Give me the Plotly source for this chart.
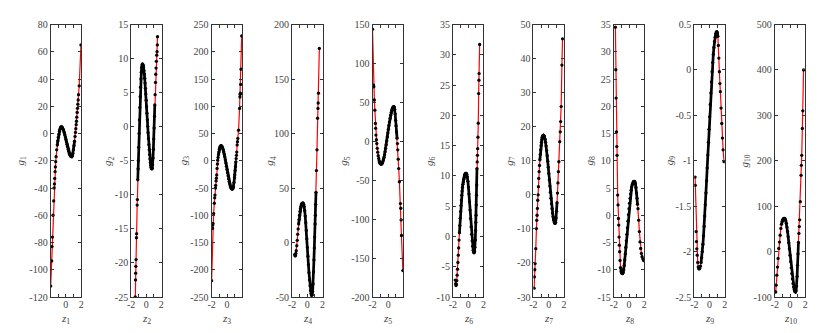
import plotly.graph_objects as go

# ---------------- data ----------------
z1 = [-1.96,-1.83,-1.79,-1.74,-1.66,-1.57,-1.52,-1.48,-1.44,-1.39,-1.35,-1.31,-1.26,-1.18,-1.11,-1.04,-0.97,-0.90,-0.83,-0.76,
      -0.69,-0.62,-0.55,-0.48,-0.41,-0.34,-0.27,-0.20,-0.13,-0.06,0.01,0.08,0.15,0.22,0.29,0.36,0.43,0.50,0.57,0.64,
      0.71,0.78,0.85,0.92,0.99,1.06,1.13,1.20,1.26,1.30,1.35,1.39,1.43,1.48,1.52,1.57,1.61,1.65,1.74,1.97]
g1 = [-112,-93.5,-83,-76,-60,-49.5,-40,-37,-33,-28,-24.5,-20.7,-17,-12,-8.5,-5.5,-2.8,-0.5,1.5,3.1,
      4.3,4.9,4.93,4.57,3.94,3.04,1.91,0.57,-0.95,-2.6,-4.34,-6.1,-7.9,-9.6,-11.3,-12.8,-14.1,-15.2,-16.0,-16.6,
      -17.0,-17.0,-16.3,-14.6,-12.0,-9.0,-5.6,-2.2,0.8,3.5,6.5,9,12,15.5,18.5,21.5,24.6,28.5,35,65]

z2 = [-1.45,-1.42,-1.40,-1.38,-1.35,-1.30,-1.27,-1.20,-1.17,-1.12,-1.08,-1.05,-1.00,-0.95,-0.90,-0.85,-0.80,-0.75,-0.70,-0.65,
      -0.60,-0.55,-0.50,-0.45,-0.40,-0.35,-0.30,-0.25,-0.20,-0.15,-0.10,-0.05,0.00,0.05,0.10,0.15,0.20,0.25,0.30,0.35,
      0.40,0.45,0.50,0.55,0.60,0.65,0.70,0.75,0.80,0.85,0.90,0.95,1.00,1.05,1.10,1.14,1.18,1.23,1.27,1.31,
      1.35,1.40,1.44,1.48,1.50]
g2 = [-25,-22.5,-21.5,-20.5,-19.5,-16.3,-15.7,-11.5,-10.7,-7.8,-6.2,-5.0,-3.0,-1.0,1.0,2.8,4.4,5.8,7.0,8.0,
      8.7,9.1,9.2,9.14,8.96,8.66,8.25,7.73,7.11,6.4,5.63,4.78,3.88,2.94,1.98,1.02,0.06,-0.88,-1.78,-2.63,
      -3.4,-4.1,-4.73,-5.25,-5.66,-5.96,-6.14,-6.2,-6.1,-5.6,-4.6,-3.3,-1.8,-0.2,1.5,3.2,4.7,6.5,7.7,8.6,
      9.6,10.5,11.0,12.0,13.2]

z3 = [-2.00,-1.87,-1.85,-1.82,-1.74,-1.65,-1.60,-1.56,-1.50,-1.47,-1.42,-1.38,-1.34,-1.29,-1.25,-1.21,-1.16,-1.11,-1.06,-1.01,
      -0.96,-0.91,-0.86,-0.78,-0.71,-0.64,-0.57,-0.50,-0.43,-0.36,-0.29,-0.22,-0.15,-0.08,-0.01,0.06,0.13,0.20,0.27,0.34,
      0.41,0.48,0.55,0.62,0.69,0.76,0.83,0.90,0.96,1.00,1.05,1.09,1.14,1.18,1.22,1.26,1.31,1.35,1.40,1.49,
      1.62,1.67,1.70,1.73,1.77,1.82,1.90]
g3 = [-220,-124,-118,-115,-97,-78,-68,-63,-50,-45,-37,-32,-26,-14,-6,1,6,11,16,20,
      23,25.5,27,27.6,27.1,25.8,23.5,20.5,16.7,12.2,7.2,1.7,-4.1,-10.1,-16.1,-22.0,-27.7,-33.1,-38,-42.3,
      -45.9,-48.7,-50.7,-51.8,-52,-51,-47.5,-40,-31,-26,-18,-11,-2,4,10,16,29,35,41,56,
      96,117,122,124,140,168,229]

z4 = [-1.65,-1.60,-1.55,-1.50,-1.45,-1.38,-1.32,-1.26,-1.20,-1.14,-1.08,-1.02,-0.96,-0.90,-0.84,-0.78,-0.72,-0.66,-0.60,-0.55,
      -0.48,-0.41,-0.34,-0.27,-0.20,-0.13,-0.06,0.01,0.08,0.15,0.22,0.29,0.36,0.43,0.50,0.57,0.64,0.70,0.76,0.82,
      0.87,0.92,0.97,1.02,1.06,1.10,1.14,1.20,1.27,1.35,1.40,1.43,1.47,1.58]
g4 = [-11,-12.3,-12,-10,-7.5,-3,2,7.5,12.5,17,21,25,28.5,31,33,34.5,35.5,36,36,36,
      35.2,33.0,29.2,24.2,18.1,11.1,3.4,-4.5,-12.6,-20.4,-27.7,-34.3,-39.7,-44.1,-47,-48.4,-48,-45,-38,-27,
      -16,-5,5,17,25,35,46,66,85,114,123,128,137,178]

z5 = [-2.00,-1.86,-1.83,-1.76,-1.70,-1.63,-1.60,-1.56,-1.50,-1.45,-1.39,-1.33,-1.27,-1.21,-1.15,-1.09,-1.03,-0.97,-0.91,-0.85,
      -0.81,-0.74,-0.67,-0.60,-0.53,-0.46,-0.39,-0.32,-0.25,-0.18,-0.11,-0.04,0.03,0.10,0.17,0.24,0.31,0.38,0.45,0.52,
      0.59,0.66,0.72,0.78,0.84,0.90,0.96,1.01,1.07,1.14,1.19,1.23,1.29,1.35,1.44,1.57,1.62,1.66,1.70,1.88]
g5 = [144,72,70,53,40,23,16.6,8,2,-3,-9,-14,-18.5,-22,-25,-27,-28.4,-29,-29.2,-29.1,
      -28.9,-27.8,-26.1,-23.8,-20.8,-17.4,-13.4,-9.1,-4.4,0.5,5.5,10.5,15.5,20.4,25,29.3,33.2,36.6,39.4,41.7,
      43.3,44.2,44.5,44,41,35,27,20,12,4,-3,-11,-23,-35,-52,-80,-86,-101,-121,-166]

z6 = [-1.70,-1.65,-1.60,-1.55,-1.50,-1.45,-1.40,-1.35,-1.30,-1.25,-1.20,-1.15,-1.10,-1.05,-1.00,-0.95,-0.90,-0.85,-0.80,-0.75,
      -0.70,-0.65,-0.60,-0.55,-0.50,-0.45,-0.40,-0.35,-0.30,-0.25,-0.18,-0.11,-0.04,0.03,0.10,0.17,0.24,0.31,0.38,0.45,
      0.52,0.59,0.66,0.73,0.78,0.83,0.88,0.93,0.97,1.00,1.03,1.06,1.09,1.12,1.15,1.18,1.21,1.24,1.28,1.32,
      1.37,1.41,1.43,1.50]
g6 = [-7.2,-7.8,-8.1,-7.9,-7.3,-6.4,-5.4,-4.3,-3.1,-1.9,-0.6,0.6,1.8,3.0,4.1,5.1,6.0,6.8,7.5,8.1,
      8.6,9.0,9.4,9.7,10.0,10.2,10.3,10.4,10.4,10.4,10.25,9.81,9.1,8.15,7.0,5.72,4.35,2.95,1.6,0.35,
      -0.74,-1.62,-2.27,-2.63,-2.7,-2.5,-1.8,-0.6,1.0,2.3,3.5,5.2,6.8,8.5,11.2,12.3,13.4,14.5,16.4,18.7,
      23.6,25.8,26.9,31.7]

z7 = [-1.91,-1.87,-1.82,-1.78,-1.69,-1.60,-1.56,-1.52,-1.47,-1.43,-1.38,-1.34,-1.30,-1.25,-1.20,-1.15,-1.10,-1.05,-1.00,-0.95,
      -0.90,-0.85,-0.80,-0.75,-0.68,-0.61,-0.54,-0.47,-0.40,-0.33,-0.26,-0.19,-0.12,-0.05,0.02,0.09,0.16,0.23,0.30,0.37,
      0.44,0.51,0.58,0.65,0.72,0.79,0.85,0.92,0.98,1.04,1.10,1.16,1.22,1.28,1.34,1.45,1.52,1.58,1.64,1.74,1.82]
g7 = [-27.4,-24.1,-22,-20.2,-15.8,-9.9,-7.5,-6,-4,-1.6,0,2.4,4.8,6.8,8.6,10.3,11.8,13.2,14.4,15.4,
      16.2,16.8,17.2,17.4,17.5,17.37,16.97,16.32,15.41,14.3,12.98,11.48,9.85,8.09,6.27,4.42,2.57,0.75,-1.0,-2.6,
      -4.08,-5.37,-6.47,-7.34,-7.95,-8.3,-8.4,-8.1,-6.8,-4.8,-2.3,0.5,3.5,6.8,9.7,15.6,18.5,21.5,25.9,38.1,45.8]

z8 = [-1.80,-1.74,-1.70,-1.65,-1.61,-1.58,-1.50,-1.45,-1.40,-1.36,-1.32,-1.28,-1.24,-1.19,-1.12,-1.05,-0.98,-0.90,-0.85,-0.78,
      -0.71,-0.64,-0.57,-0.50,-0.43,-0.36,-0.29,-0.22,-0.15,-0.08,-0.01,0.06,0.13,0.20,0.27,0.34,0.41,0.48,0.55,0.62,
      0.69,0.76,0.83,0.90,0.97,1.04,1.10,1.17,1.26,1.35,1.43,1.52,1.61,1.70,1.80,1.90]
g8 = [34.5,26.7,21.5,15.3,12.6,11,3.7,1.9,-0.6,-1.8,-4,-5.5,-6.7,-8.3,-9.6,-10.3,-10.6,-10.7,-10.7,-10.5,
      -10.0,-9.2,-8.2,-7.1,-5.9,-4.7,-3.5,-2.3,-1.1,0.1,1.2,2.2,3.1,3.9,4.6,5.2,5.6,5.9,6.1,6.2,
      6.2,6.1,5.8,5.1,4.1,3.1,2.0,1.2,-0.9,-3,-4.9,-6.1,-7.0,-7.6,-8.0,-8.3]

z9 = [-1.90,-1.87,-1.76,-1.72,-1.67,-1.62,-1.55,-1.48,-1.41,-1.34,-1.27,-1.19,-1.11,-1.03,-0.95,-0.87,-0.79,-0.71,-0.63,-0.55,
      -0.47,-0.39,-0.31,-0.23,-0.15,-0.07,0.01,0.09,0.17,0.25,0.33,0.41,0.49,0.57,0.65,0.73,0.81,0.89,0.95,1.02,
      1.09,1.16,1.22,1.29,1.36,1.42,1.51,1.60,1.69,1.78,1.90]
g9 = [-1.18,-1.27,-1.78,-1.89,-1.97,-2.04,-2.12,-2.17,-2.19,-2.19,-2.182,-2.159,-2.12,-2.067,-2.0,-1.919,-1.826,-1.723,-1.609,-1.485,
      -1.355,-1.22,-1.079,-0.938,-0.796,-0.654,-0.516,-0.381,-0.253,-0.132,-0.02,0.081,0.171,0.248,0.313,0.361,0.397,0.417,0.42,0.41,
      0.37,0.27,0.13,-0.02,-0.15,-0.24,-0.42,-0.59,-0.75,-0.88,-1.01]

z10 = [-1.88,-1.82,-1.73,-1.64,-1.56,-1.47,-1.38,-1.29,-1.20,-1.12,-1.04,-0.96,-0.88,-0.80,-0.72,-0.64,-0.56,-0.48,-0.40,-0.32,
       -0.24,-0.16,-0.08,0.00,0.08,0.16,0.24,0.32,0.40,0.48,0.56,0.64,0.72,0.80,0.87,0.93,0.99,1.05,1.11,1.17,
       1.22,1.27,1.35,1.45,1.49,1.54,1.62,1.68,1.78]
g10 = [-89,-74,-52,-34,-15,7,21,36,51,60,66,70,72,73,73,71.8,68.1,62.2,54,44.1,
       32.5,19.7,6.1,-8,-22.1,-35.7,-48.5,-60.1,-70,-78.1,-84.1,-87.8,-89,-86,-76,-55,-30,-5,20,40,
       55,70,110,168,190,212,271,310,400]

# tick values / labels
Z_TICKS = [-2, 0, 2]
Z_TICK_LABELS = ["-2", "0", "2"]
Z_MINOR_TICKS = [-1, 1]
G_TICKS = [
    [-120, -100, -80, -60, -40, -20, 0, 20, 40, 60, 80],
    [-25, -20, -15, -10, -5, 0, 5, 10, 15],
    [-250, -200, -150, -100, -50, 0, 50, 100, 150, 200, 250],
    [-50, 0, 50, 100, 150, 200],
    [-200, -150, -100, -50, 0, 50, 100, 150],
    [-10, -5, 0, 5, 10, 15, 20, 25, 30, 35],
    [-30, -20, -10, 0, 10, 20, 30, 40, 50],
    [-15, -10, -5, 0, 5, 10, 15, 20, 25, 30, 35],
    [-2.5, -2, -1.5, -1, -0.5, 0, 0.5],
    [-100, 0, 100, 200, 300, 400, 500],
]

# ---------------- layout / style ----------------
Z_DATA = [z1, z2, z3, z4, z5, z6, z7, z8, z9, z10]
G_DATA = [g1, g2, g3, g4, g5, g6, g7, g8, g9, g10]
X_RANGES = [[-1.96, 2.0], [-2.0, 2.05], [-2.0, 1.95], [-2.0, 2.0], [-2.0, 1.9],
            [-2.0, 2.0], [-2.0, 2.0], [-2.0, 2.0], [-2.0, 2.0], [-2.0, 2.0]]
YTITLE_OFFSET = [30, 23, 28, 22, 28.5, 23.7, 23.5, 24, 24.7, 30]   # px left of each axis
CORE = 1.15          # dense-sampling band: overlapping dots
W, H = 831, 333
LEFT0, STEP, PW = 50.7, 80.45, 30.5
TOP, BOT = 24.5, 297.0
XTITLE_Y = 318.5
FONT = "Liberation Serif, Times New Roman, serif"
AX_COL = "#333333"
TXT_COL = "#444444"

fig = go.Figure()
layout = dict(width=W, height=H, margin=dict(l=0, r=0, t=0, b=0),
              paper_bgcolor="white", plot_bgcolor="white", showlegend=False,
              font=dict(family=FONT, size=10, color=TXT_COL))
annotations = []

def fmt(v):
    return f"{v:g}"

for i in range(10):
    n = i + 1
    xa = "x" if i == 0 else f"x{n}"
    ya = "y" if i == 0 else f"y{n}"
    z, g = Z_DATA[i], G_DATA[i]
    fig.add_trace(go.Scatter(x=z, y=g, mode="lines", xaxis=xa, yaxis=ya,
                             line=dict(color="#ff0000", width=1.2), hoverinfo="skip"))
    cz = [a for a in z if abs(a) <= CORE]
    cg = [b for a, b in zip(z, g) if abs(a) <= CORE]
    fig.add_trace(go.Scatter(x=cz, y=cg, mode="lines", xaxis=xa, yaxis=ya,
                             line=dict(color="black", width=2.7), hoverinfo="skip"))
    fig.add_trace(go.Scatter(x=z, y=g, mode="markers", xaxis=xa, yaxis=ya,
                             marker=dict(color="black", size=3.3, symbol="circle",
                                         line=dict(width=0))))
    left = LEFT0 + STEP * i
    x0, x1 = left / W, (left + PW) / W
    ticks = G_TICKS[i]
    common = dict(showline=True, linecolor=AX_COL, linewidth=1, mirror="allticks",
                  ticks="inside", ticklen=3, tickwidth=1, tickcolor=AX_COL,
                  showgrid=False, zeroline=False, automargin=False,
                  tickfont=dict(family=FONT, size=10, color=TXT_COL))
    layout["xaxis" if i == 0 else f"xaxis{n}"] = dict(
        domain=[x0, x1], anchor=ya, range=X_RANGES[i],
        tickmode="array", tickvals=Z_TICKS, ticktext=Z_TICK_LABELS, ticklabelstandoff=-2,
        minor=dict(tickmode="array", tickvals=Z_MINOR_TICKS, ticks="inside", ticklen=3,
                   tickcolor=AX_COL, tickwidth=1, showgrid=False),
        **common)
    layout["yaxis" if i == 0 else f"yaxis{n}"] = dict(
        domain=[1 - BOT / H, 1 - TOP / H], anchor=xa, range=[ticks[0], ticks[-1]],
        tickmode="array", tickvals=ticks, ticktext=[fmt(t) for t in ticks],
        **common)
    annotations.append(dict(text=f"<i>z</i><sub>{n}</sub>", xref="paper", yref="paper",
                            x=(left + PW / 2) / W, y=1 - XTITLE_Y / H,
                            xanchor="center", yanchor="middle", showarrow=False,
                            font=dict(family=FONT, size=11, color=TXT_COL)))
    annotations.append(dict(text=f"<i>g</i><sub>{n}</sub>", xref="paper", yref="paper",
                            x=(left - YTITLE_OFFSET[i]) / W, y=1 - (TOP + BOT) / 2 / H,
                            xanchor="center", yanchor="middle", textangle=-90, showarrow=False,
                            font=dict(family=FONT, size=11, color=TXT_COL)))

layout["annotations"] = annotations
fig.update_layout(**layout)
fig.write_html("out.html", config={"displayModeBar": False},
               post_script="document.body.style.margin='0';document.body.style.overflow='hidden';")
